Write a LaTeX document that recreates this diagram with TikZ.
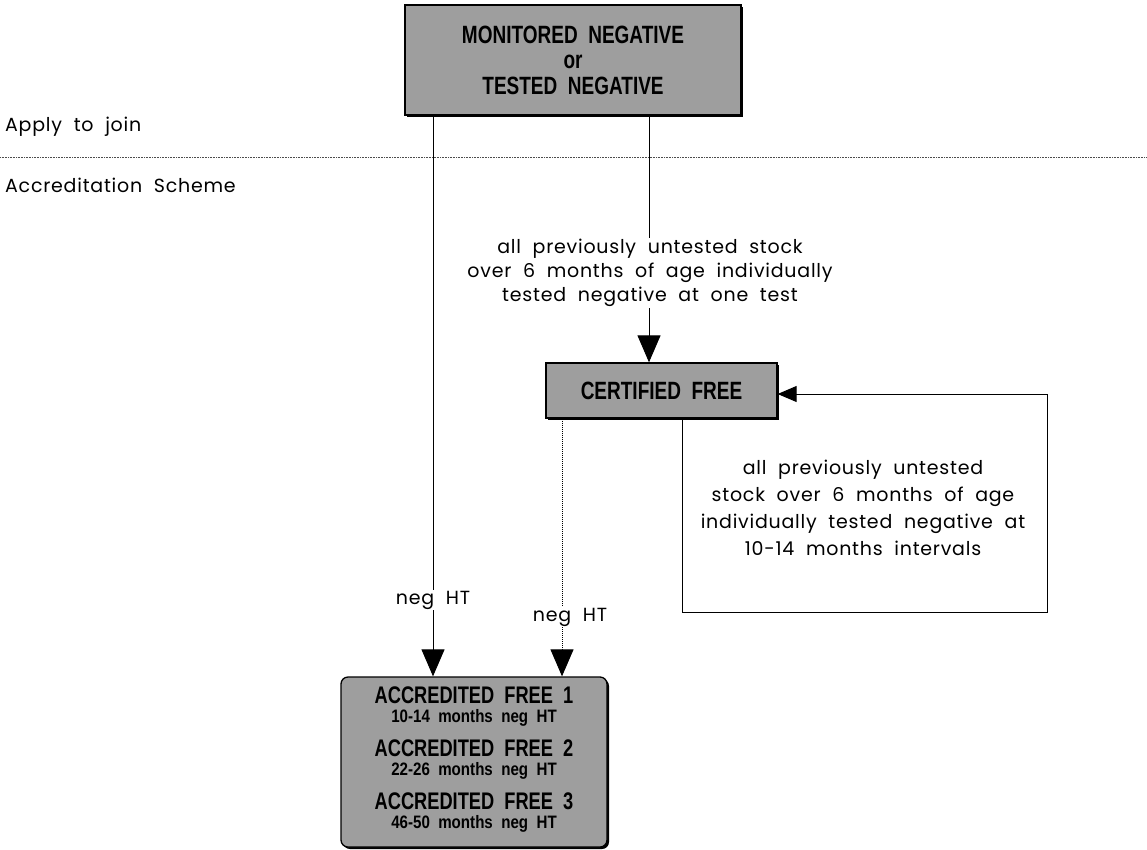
\documentclass[tikz,border=0pt]{standalone}
\usepackage{fontspec}
\setmainfont[LetterSpace=4]{Poppins}
\newfontfamily\boxfont[FakeStretch=0.76]{Liberation Sans}
\newfontfamily\smallboxfont[FakeStretch=0.84]{Liberation Sans}
\usetikzlibrary{arrows.meta,shadows}
\tikzset{
  greybox/.style={draw=black, line width=1.3pt, fill=black!38, inner sep=0pt,
    drop shadow={shadow xshift=2pt, shadow yshift=-2pt, fill=black, opacity=1}},
  lbl/.style={font=\fontsize{19}{27}\selectfont, align=center, inner sep=1pt},
  bigtxt/.style={font=\boxfont\bfseries\fontsize{24}{24}\selectfont, inner sep=0pt},
  smalltxt/.style={font=\smallboxfont\bfseries\fontsize{18}{18}\selectfont, inner sep=0pt},
  conn/.style={line width=1pt},
  dotconn/.style={line width=1pt, dash pattern=on 1pt off 1pt},
  tri/.style={-{Triangle[length=27pt,width=23pt]}},
  tril/.style={-{Triangle[length=19pt,width=16pt]}},
}
\begin{document}
\begin{tikzpicture}[x=1pt,y=-1pt]
\useasboundingbox (0,0) rectangle (1147,849);
% section labels
\node[lbl, anchor=west] (apply) at (4,127) {Apply~ to~ join};
\node[lbl, anchor=west] (accs) at (4,185) {Accreditation~ Scheme};
\coordinate (dl) at (0,157);
\coordinate (dr) at (1147,157);
\draw[line width=0.6pt, dash pattern=on 0.8pt off 0.8pt, black!70] (dl) -- (dr);
% boxes
\node[greybox, minimum width=336pt, minimum height=110pt, align=center,
  font=\boxfont\bfseries\fontsize{25}{25.5}\selectfont] (mon) at (573,60)
  {MONITORED~ NEGATIVE\\or\\TESTED~ NEGATIVE};
\node[greybox, minimum width=231pt, minimum height=55pt,
  font=\boxfont\bfseries\fontsize{25}{25}\selectfont] (cert) at (661.5,390.5) {CERTIFIED~ FREE};
\node[greybox, rounded corners=7pt, minimum width=266pt, minimum height=170pt] (acc) at (474,762) {};
\node[bigtxt] (a1) at (474,695) {ACCREDITED~ FREE~ 1};
\node[smalltxt] (a1s) at (474,718) {10-14~ months~ neg~ HT};
\node[bigtxt] (a2) at (474,748) {ACCREDITED~ FREE~ 2};
\node[smalltxt] (a2s) at (474,771) {22-26~ months~ neg~ HT};
\node[bigtxt] (a3) at (474,801) {ACCREDITED~ FREE~ 3};
\node[smalltxt] (a3s) at (474,824) {46-50~ months~ neg~ HT};
% labels
\node[lbl, font=\fontsize{19}{24}\selectfont] (lab1) at (650,273) {all~ previously~ untested~ stock\\over~ 6~ months~ of~ age~ individually\\tested~ negative~ at~ one~ test};
\node[lbl] (lab2) at (863,508) {all~ previously~ untested\\stock~ over~ 6~ months~ of~ age\\individually~ tested~ negative~ at\\10-14~ months~ intervals};
\node[lbl] (negL) at (433,600) {neg~ HT};
\node[lbl] (negR) at (570,617) {neg~ HT};
% connectors
\coordinate (L) at (433,0);
\coordinate (R) at (649,0);
\coordinate (D) at (562,0);
\coordinate (c1) at (682,612);
\coordinate (c2) at (1047,612);
\coordinate (c3) at (1047,394);
\draw[conn] (mon.south -| L) -- (negL.north -| L);
\draw[conn, tri] (negL.south -| L) -- (acc.north -| L);
\draw[conn] (mon.south -| R) -- (lab1.north -| R);
\draw[conn, tri] (lab1.south -| R) -- (cert.north -| R);
\draw[dotconn] (cert.south -| D) -- (negR.north -| D);
\draw[dotconn, tri] (negR.south -| D) -- (acc.north -| D);
\draw[conn, tril] (cert.south -| c1) -- (c1) -- (c2) -- (c3) -- (cert.east |- c3);
\end{tikzpicture}
\end{document}
